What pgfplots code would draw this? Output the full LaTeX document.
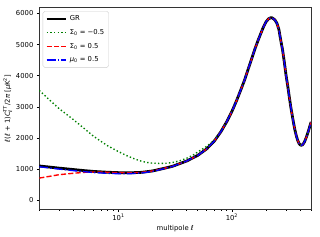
\documentclass[border=0pt]{standalone}
\usepackage{fontspec}
\setmainfont{DejaVu Sans}
\usepackage{pgfplots}
\pgfplotsset{compat=1.18}
\definecolor{mplgreen}{RGB}{0,128,0}
\pgfplotstableread{
l v
2 1100
3 1030
4 985
5 950
6 925
8 898
10 885
13 882
16 895
20 940
25 1020
30 1090
40 1260
50 1440
60 1650
70 1900
80 2200
90 2520
100 2850
110 3200
120 3550
130 3880
140 4240
150 4560
160 4870
170 5130
180 5360
190 5570
200 5730
210 5825
220 5862
225 5862
230 5845
240 5790
250 5680
260 5480
270 5130
280 4830
290 4440
300 4030
310 3700
320 3350
330 3020
340 2740
350 2480
360 2250
370 2070
380 1930
390 1830
400 1780
410 1765
420 1780
430 1830
440 1900
450 1990
460 2090
470 2190
480 2300
490 2410
500 2510
}\gr
\pgfplotstableread{
l v
2 3530
2.5 3200
3 2940
4 2590
5 2300
6 2060
7 1890
8 1750
10 1560
12 1420
14 1320
16 1250
18 1210
20 1190
23 1180
26 1185
30 1210
35 1270
40 1350
45 1440
50 1550
60 1730
70 1930
80 2210
90 2520
100 2850
110 3200
120 3550
130 3880
140 4240
150 4560
160 4870
170 5130
180 5360
190 5570
200 5730
210 5825
220 5862
225 5862
230 5845
240 5790
250 5680
260 5480
270 5130
280 4830
290 4440
300 4030
310 3700
320 3350
330 3020
340 2740
350 2480
360 2250
370 2070
380 1930
390 1830
400 1780
410 1765
420 1780
430 1830
440 1900
450 1990
460 2090
470 2190
480 2300
490 2410
500 2510
}\sigmaneg
\pgfplotstableread{
l v
2 710
2.5 770
3 820
4 865
5 895
6 905
7 905
8 898
10 885
13 882
16 895
20 940
25 1020
30 1090
40 1260
50 1440
60 1650
70 1900
80 2200
90 2520
100 2850
110 3200
120 3550
130 3880
140 4240
150 4560
160 4870
170 5130
180 5360
190 5570
200 5730
210 5825
220 5862
225 5862
230 5845
240 5790
250 5680
260 5480
270 5130
280 4830
290 4440
300 4030
310 3700
320 3350
330 3020
340 2740
350 2480
360 2250
370 2070
380 1930
390 1830
400 1780
410 1765
420 1780
430 1830
440 1900
450 1990
460 2090
470 2190
480 2300
490 2410
500 2510
}\sigmapos
\pgfplotstableread{
l v
2 1075
3 1000
4 950
5 915
6 890
8 862
10 852
13 855
16 875
20 925
25 1010
30 1085
40 1260
50 1440
60 1650
70 1900
80 2200
90 2520
100 2850
110 3200
120 3550
130 3880
140 4240
150 4560
160 4870
170 5130
180 5360
190 5570
200 5730
210 5825
220 5862
225 5862
230 5845
240 5790
250 5680
260 5480
270 5130
280 4830
290 4440
300 4030
310 3700
320 3350
330 3020
340 2740
350 2480
360 2250
370 2070
380 1930
390 1830
400 1780
410 1765
420 1780
430 1830
440 1900
450 1990
460 2090
470 2190
480 2300
490 2410
500 2510
}\mupos
\begin{document}
\begin{tikzpicture}[font=\fontsize{6.94}{8.3}\selectfont]
\begin{axis}[
  scale only axis,
  width=276pt, height=205pt,
  xmode=log,
  xmin=2, xmax=500,
  ymin=-300, ymax=6190,
  xtick={10,100},
  xticklabels={10\textsuperscript{1},10\textsuperscript{2}},
  minor xtick={2,3,4,5,6,7,8,9,20,30,40,50,60,70,80,90,200,300,400,500},
  ytick={0,1000,2000,3000,4000,5000,6000},
  scaled y ticks=false,
  yticklabel style={/pgf/number format/fixed,/pgf/number format/precision=0,/pgf/number format/1000 sep={}},
  /pgf/number format/assume math mode=true,
  xtick pos=bottom, ytick pos=left,
  tick align=outside,
  major tick length=2.43pt, minor tick length=1.39pt,
  every tick/.style={black, line width=0.56pt},
  axis line style={line width=0.56pt, black!80},
  xticklabel style={yshift=1pt},
  xlabel={multipole \textit{ℓ}},
  ylabel={\textit{ℓ}(\textit{ℓ} + 1)\textit{C}$_{\mbox{\fontsize{5}{5}\selectfont\itshape ℓ}}^{\mbox{\fontsize{5}{5}\selectfont\itshape TT}}$/2\textit{π} [\textit{μ}K\textsuperscript{2}]},
  xlabel style={yshift=3pt},
  ylabel style={yshift=-3pt},
  legend style={at={(rel axis cs:0,1)}, anchor=north west, xshift=3.5pt, yshift=-3.5pt,
    draw=black!20, rounded corners=2pt, fill=white, fill opacity=0.8, text opacity=1,
    inner sep=2.5pt, row sep=3.2pt, cells={anchor=west},
    font=\fontsize{6.94}{8.3}\selectfont},
  legend image code/.code={\draw[#1] (0pt,0pt) -- (20pt,0pt);},
]
\coordinate (sw) at (rel axis cs:0,0);
\addplot[color=black, draw=black, line width=2.8pt] table[x=l,y=v] {\gr};
\addlegendentry{GR}
\addplot[color=mplgreen, draw=mplgreen, line width=1.4pt, dash pattern=on 1.4pt off 2.3pt] table[x=l,y=v] {\sigmaneg};
\addlegendentry{Σ\textsubscript{0} = −0.5}
\addplot[color=red, draw=red, line width=1.4pt, dash pattern=on 5.2pt off 2.24pt] table[x=l,y=v] {\sigmapos};
\addlegendentry{Σ\textsubscript{0} = 0.5}
\addplot[color=blue, draw=blue, line width=1.4pt, dash pattern=on 9pt off 2.24pt on 1.4pt off 2.24pt] table[x=l,y=v] {\mupos};
\addlegendentry{\textit{μ}\textsubscript{0} = 0.5}
\end{axis}
\path ([shift={(-35pt,-27.3pt)}]sw) rectangle ++(320pt,240pt);
\end{tikzpicture}
\end{document}
